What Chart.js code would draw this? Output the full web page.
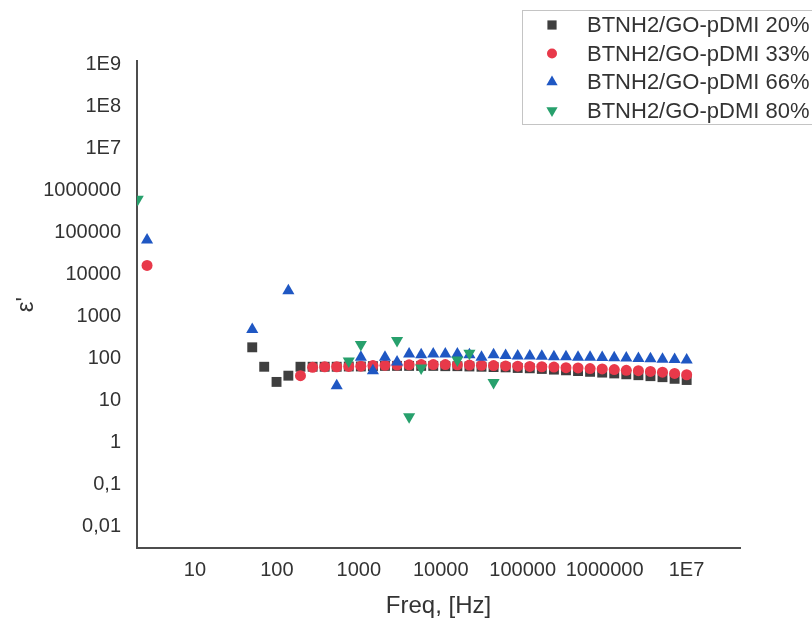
<!DOCTYPE html>
<html>
<head>
<meta charset="UTF-8">
<title>BTNH2/GO-pDMI</title>
<script src="https://cdn.jsdelivr.net/npm/chart.js@4.4.0/dist/chart.umd.min.js"></script>
<style>
	html, body { margin: 0; padding: 0; background: #fff; }
	#wrap { position: relative; width: 812px; height: 623px; overflow: hidden; }
</style>
</head>
<body>
<div id="wrap"><canvas id="chart" width="812" height="623"></canvas></div>
<script>
	// frequencies, Hz (shared by all four samples)
	var freq = [50, 70, 99, 138, 194, 273, 383, 537, 754, 1059, 1486, 2086, 2929, 4111, 5771, 8102,
		11370, 15960, 22400, 31450, 44150, 61970, 87000, 122200, 171400, 240900, 338100, 474300,
		665600, 935200, 1312000, 1841000, 2588000, 3631000, 5093000, 7161000, 10050000];

	var eps20 = [180, 62, 27, 38, 62, 62, 62, 62, 63, 63, 64, 65, 65, 65, 65, 65,
		64, 64, 63, 62, 61, 60, 58, 57, 55, 53, 51, 49,
		47, 45, 43, 41, 39, 37, 35, 32, 30];
	var eps33 = [null, null, null, null, 38, 60, 62, 62, 63, 64, 66, 67, 68, 69, 70, 70,
		70, 69, 68, 67, 66, 65, 64, 63, 62, 61, 59, 58,
		56, 55, 53, 51, 50, 48, 46, 43, 40];
	var eps66 = [480, null, null, 4000, null, null, null, 22, null, 105, 50, 105, 80, 125, 120, 125,
		125, 125, 120, 105, 120, 115, 112, 112, 110, 108, 107, 105,
		104, 103, 102, 100, 98, 96, 94, 92, 90];
	var eps80 = [null, null, null, null, null, null, null, null, 85, 210, null, null, 260, 4.0, 58, null,
		null, 90, 130, null, 26, null, null, null, null, null, null, null,
		null, null, null, null, null, null, null, null, null];

	// lowest-frequency reading of each sample
	var firstFreq = [null, 2.6, 2.6, 2.0];
	var firstEps = [null, 16000, 65000, 600000];

	var names = ["BTNH2/GO-pDMI 20%", "BTNH2/GO-pDMI 33%", "BTNH2/GO-pDMI 66%", "BTNH2/GO-pDMI 80%"];
	var colours = ["#3f3f3f", "#e8394a", "#1f57c3", "#27a06c"];
	var markers = ["rect", "circle", "triangle", "triangle"];

	var xTickValues = [10, 100, 1000, 10000, 100000, 1000000, 10000000];
	var xTickLabels = ["10", "100", "1000", "10000", "100000", "1000000", "1E7"];
	var yTickValues = [1e9, 1e8, 1e7, 1e6, 1e5, 1e4, 1000, 100, 10, 1, 0.1, 0.01];
	var yTickLabels = ["1E9", "1E8", "1E7", "1000000", "100000", "10000", "1000", "100", "10", "1", "0,1", "0,01"];

	var series = [eps20, eps33, eps66, eps80];
	var sizes = [7, 5.5, 7, 7];
	var rotations = [0, 0, 0, 180];

	var datasets = [];
	for (var s = 0; s < series.length; s++) {
		var pts = [];
		if (firstFreq[s] !== null) pts.push({ x: firstFreq[s], y: firstEps[s] });
		for (var i = 0; i < freq.length; i++) {
			if (series[s][i] !== null) pts.push({ x: freq[i], y: series[s][i] });
		}
		datasets.push({
			label: names[s],
			data: pts,
			order: series.length - s, // later samples painted over earlier ones
			backgroundColor: colours[s],
			borderColor: colours[s],
			pointStyle: markers[s],
			pointRadius: sizes[s],
			pointRotation: rotations[s],
			pointBorderWidth: 0,
			showLine: false
		});
	}

	var font = "'Liberation Sans', Arial, sans-serif";

	// framed legend in the top right corner, cut by the page edge like the original
	var legendBox = {
		id: 'legendBox',
		afterDraw: function (chart) {
			var ctx = chart.ctx;
			ctx.save();
			ctx.strokeStyle = '#c4c4c4';
			ctx.lineWidth = 1;
			ctx.strokeRect(522.5, 10.5, 340, 114);
			chart.data.datasets.forEach(function (ds, i) {
				var y = 25 + i * 28.5;
				ctx.fillStyle = ds.backgroundColor;
				Chart.helpers.drawPoint(ctx, {
					pointStyle: ds.pointStyle,
					radius: ds.pointRadius - 0.5,
					rotation: ds.pointRotation,
					borderWidth: 0
				}, 552, y);
				ctx.fillStyle = '#333';
				ctx.font = '22px ' + font;
				ctx.textBaseline = 'middle';
				ctx.textAlign = 'left';
				ctx.fillText(ds.label, 587, y + 1);
			});
			ctx.restore();
		}
	};

	var ctx = document.getElementById("chart").getContext("2d");
	var chart = new Chart(ctx, {
		type: 'scatter',
		data: { datasets: datasets },
		plugins: [legendBox],
		options: {
			responsive: false,
			animation: false,
			devicePixelRatio: 1,
			layout: { padding: { top: 61, right: 72, left: 0, bottom: 0 } },
			plugins: {
				legend: { display: false },
				tooltip: { enabled: false }
			},
			scales: {
				x: {
					type: 'logarithmic',
					min: 1.96,
					max: 45000000,
					grid: { display: false, drawTicks: false },
					border: { display: true, color: '#4d4d4d', width: 2 },
					afterBuildTicks: function (scale) {
						scale.ticks = xTickValues.map(function (v) { return { value: v }; });
					},
					afterFit: function (scale) { scale.height = 75; },
					ticks: {
						padding: 10,
						color: '#333',
						font: { family: font, size: 20 },
						maxRotation: 0,
						autoSkip: false,
						callback: function (v) {
							var k = xTickValues.indexOf(v);
							return k >= 0 ? xTickLabels[k] : '';
						}
					},
					title: {
						display: true,
						text: 'Freq, [Hz]',
						color: '#333',
						font: { family: font, size: 24 },
						padding: { top: 0, bottom: 2 }
					}
				},
				y: {
					type: 'logarithmic',
					min: 0.003,
					max: 1.18e9,
					grid: { display: false, drawTicks: false },
					border: { display: true, color: '#4d4d4d', width: 2 },
					afterBuildTicks: function (scale) {
						scale.ticks = yTickValues.map(function (v) { return { value: v }; });
					},
					afterFit: function (scale) { scale.width = 137; },
					ticks: {
						padding: 16,
						color: '#333',
						font: { family: font, size: 20 },
						autoSkip: false,
						callback: function (v) {
							var k = yTickValues.indexOf(v);
							return k >= 0 ? yTickLabels[k] : '';
						}
					},
					title: {
						display: true,
						text: "ε'",
						color: '#333',
						font: { family: font, size: 24 },
						padding: { top: 12, bottom: 0 }
					}
				}
			}
		}
	});
</script>
</body>
</html>
